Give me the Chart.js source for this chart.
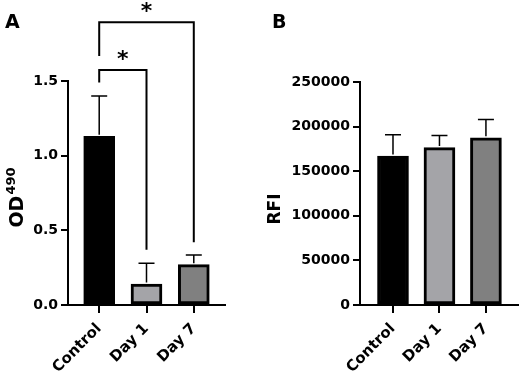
<!DOCTYPE html>
<html>
<head>
<meta charset="utf-8">
<script src="https://cdn.jsdelivr.net/npm/chart.js@4.4.0/dist/chart.umd.min.js"></script>
<style>
  body { margin: 0; background: #fff; }
  #wrap { position: relative; width: 523px; height: 374px; }
  .panel { position: absolute; top: 0; height: 374px; }
  .tag { position: absolute; top: 10px; font: bold 19px "DejaVu Sans"; color: #000; }
</style>
</head>
<body>
<div id="wrap">
  <div class="panel" style="left:0;width:262px"><canvas id="chartA"></canvas></div>
  <div class="panel" style="left:262px;width:261px"><canvas id="chartB"></canvas></div>
  <div class="tag" style="left:5px">A</div>
  <div class="tag" style="left:272px">B</div>
</div>
<script>
// 데이터
var groups = ['Control', 'Day 1', 'Day 7'];
var barColors = ['#000000', '#a4a4a8', '#808080'];

var odMean = [1.13, 0.14, 0.27];
var odErr = [0.27, 0.14, 0.065];

var rfiMean = [167000, 176500, 187500];
var rfiErr = [24000, 13500, 20500];

// 유의성 표시 (그룹 인덱스 쌍)
var sigPairs = [[0, 1], [0, 2]];
var sigLabels = ['*', '*'];

Chart.defaults.font.family = 'DejaVu Sans';
Chart.defaults.font.weight = 'bold';
Chart.defaults.color = '#000';

function toPoints(values) {
    var pts = [];
    for (var i = 0; i < values.length; i++) {
        pts.push({ x: i, y: values[i] });
    }
    return pts;
}

// 에러바 (위쪽만)
const errorBars = {
    id: 'errorBars',
    afterDatasetsDraw(chart, args, opts) {
        var ctx = chart.ctx;
        var meta = chart.getDatasetMeta(0);
        var yScale = chart.scales.y;
        var means = chart.data.datasets[0].data;
        ctx.save();
        ctx.strokeStyle = '#000';
        ctx.lineWidth = 1.5;
        for (var i = 0; i < meta.data.length; i++) {
            var x = meta.data[i].x;
            var y0 = yScale.getPixelForValue(means[i].y);
            var y1 = yScale.getPixelForValue(means[i].y + opts.err[i]);
            ctx.beginPath();
            ctx.moveTo(x, y0 - 1.5);
            ctx.lineTo(x, y1);
            ctx.moveTo(x - 8, y1);
            ctx.lineTo(x + 8, y1);
            ctx.stroke();
        }
        ctx.restore();
    }
};

// 유의성 브래킷
const brackets = {
    id: 'brackets',
    afterDatasetsDraw(chart) {
        var ctx = chart.ctx;
        var xs = chart.scales.x;
        var ys = chart.scales.y;
        // 브래킷 높이 (데이터 단위): [가로선, 왼쪽 끝, 오른쪽 끝]
        var levels = [[1.573, 1.49, 0.37], [1.893, 1.667, 0.42]];
        ctx.save();
        ctx.strokeStyle = '#000';
        ctx.lineWidth = 2;
        ctx.fillStyle = '#000';
        ctx.font = 'bold 22px "DejaVu Sans"';
        ctx.textAlign = 'center';
        ctx.textBaseline = 'middle';
        for (var i = 0; i < sigPairs.length; i++) {
            var xa = xs.getPixelForValue(sigPairs[i][0]);
            var xb = xs.getPixelForValue(sigPairs[i][1]);
            var yTop = ys.getPixelForValue(levels[i][0]);
            ctx.beginPath();
            ctx.moveTo(xa, ys.getPixelForValue(levels[i][1]));
            ctx.lineTo(xa, yTop);
            ctx.lineTo(xb, yTop);
            ctx.lineTo(xb, ys.getPixelForValue(levels[i][2]));
            ctx.stroke();
            ctx.fillText(sigLabels[i], (xa + xb) / 2, yTop - 10);
        }
        ctx.restore();
    }
};

// y축 제목 (위첨자 지원)
const yTitle = {
    id: 'yTitle',
    afterDraw(chart, args, opts) {
        var ctx = chart.ctx;
        ctx.save();
        ctx.translate(opts.x, opts.y);
        ctx.rotate(-Math.PI / 2);
        ctx.fillStyle = '#000';
        ctx.textBaseline = 'alphabetic';
        ctx.font = 'bold ' + opts.size + 'px "DejaVu Sans"';
        var w1 = ctx.measureText(opts.text).width;
        var w2 = 0;
        var supFont = 'bold ' + Math.round(opts.size * 0.7) + 'px "DejaVu Sans"';
        if (opts.sup) {
            ctx.font = supFont;
            w2 = ctx.measureText(opts.sup).width;
        }
        var start = -(w1 + w2) / 2;
        var base = opts.size * 0.36;
        ctx.font = 'bold ' + opts.size + 'px "DejaVu Sans"';
        ctx.fillText(opts.text, start, base);
        if (opts.sup) {
            ctx.font = supFont;
            ctx.fillText(opts.sup, start + w1 + 1, base - opts.size * 0.42);
        }
        ctx.restore();
    }
};

function makeOptions(yMin, yMax, step, xMin, xMax, yWidth, pad, tickFmt, title, err) {
    return {
        responsive: true,
        maintainAspectRatio: false,
        animation: false,
        layout: { padding: pad },
        plugins: {
            legend: { display: false },
            tooltip: { enabled: false },
            errorBars: { err: err },
            yTitle: title
        },
        scales: {
            x: {
                type: 'linear',
                min: xMin,
                max: xMax,
                offset: false,
                afterBuildTicks: function(axis) {
                    axis.ticks = groups.map(function(g, i) { return { value: i }; });
                },
                afterFit: function(scale) { scale.height = 374 - 305 - pad.bottom; },
                ticks: {
                    minRotation: 45,
                    maxRotation: 45,
                    padding: 7,
                    font: { size: 15, weight: 'bold' },
                    callback: function(v) { return groups[v]; }
                },
                grid: { display: true, offset: false, drawOnChartArea: false, drawTicks: true, tickLength: 8, color: '#000', lineWidth: 2 },
                border: { display: true, color: '#000', width: 2 }
            },
            y: {
                min: yMin,
                max: yMax,
                ticks: {
                    stepSize: step,
                    padding: 3,
                    font: { size: 14, weight: 'bold' },
                    callback: tickFmt
                },
                afterFit: function(scale) { scale.width = yWidth; },
                grid: { display: true, drawOnChartArea: false, drawTicks: true, tickLength: 7, color: '#000', lineWidth: 2 },
                border: { display: true, color: '#000', width: 2 }
            }
        }
    };
}

function barDataset(values) {
    return {
        data: toPoints(values),
        backgroundColor: barColors,
        borderColor: '#000',
        borderWidth: 3,
        borderSkipped: false,
        barThickness: 31
    };
}

var chartA = new Chart(document.getElementById('chartA').getContext('2d'), {
    type: 'bar',
    data: { datasets: [barDataset(odMean)] },
    options: makeOptions(0, 1.5, 0.5, -0.66, 2.66, 68,
        { left: 0, top: 81, right: 37, bottom: 0 },
        function(v) { return v.toFixed(1); },
        { text: 'OD', sup: '490', size: 19, x: 16, y: 198 }, odErr),
    plugins: [errorBars, brackets, yTitle]
});

var chartB = new Chart(document.getElementById('chartB').getContext('2d'), {
    type: 'bar',
    data: { datasets: [barDataset(rfiMean)] },
    options: makeOptions(0, 250000, 50000, -0.71, 2.69, 98,
        { left: 0, top: 82, right: 5, bottom: 0 },
        function(v) { return String(v); },
        { text: 'RFI', sup: '', size: 17, x: 12, y: 209 }, rfiErr),
    plugins: [errorBars, yTitle]
});
</script>
</body>
</html>
